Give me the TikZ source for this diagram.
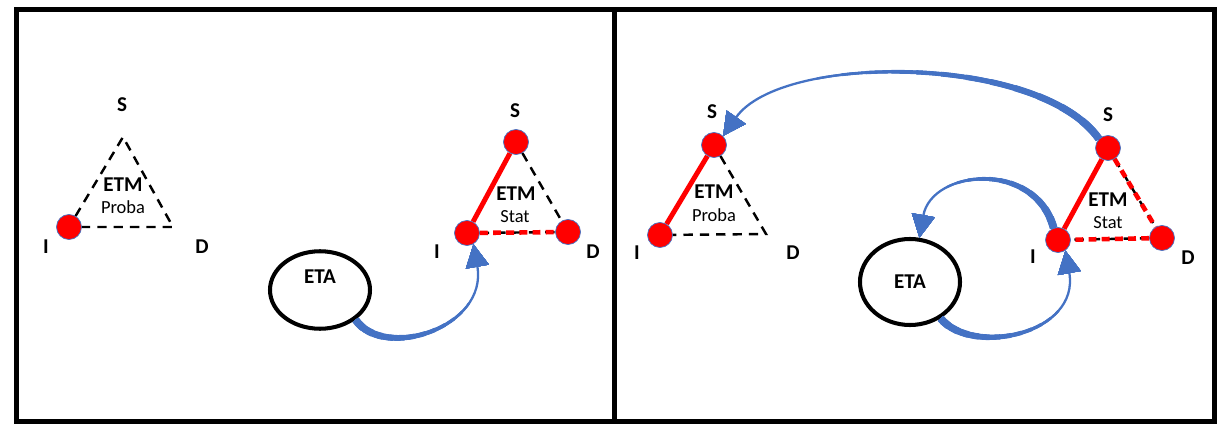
\documentclass[tikz,border=0pt]{standalone}
\usepackage{fontspec}
\setmainfont{Carlito}
\usetikzlibrary{shapes.geometric,arrows.meta}
\definecolor{bleufleche}{RGB}{68,114,196}
\definecolor{rougeactif}{RGB}{255,0,0}
\tikzset{
  every node/.style={font=\bfseries\fontsize{12}{14}\selectfont},
  cadre/.style={draw=black,line width=0.1cm},
  sommet/.style={
    circle,
    fill=rougeactif,
    draw=bleufleche,
    line width=0.4pt,
    minimum size=0.5cm,
    inner sep=0pt
  },
  automate/.style={ellipse,draw=black,line width=2.3pt,minimum width=2.0cm,inner sep=0pt},
  sous/.style={font=\fontsize{10.5}{12}\selectfont},
  lien/.style={draw=black,line width=1.4pt,dash pattern=on 5.3pt off 4pt},
  actif/.style={draw=rougeactif,line width=2.8pt},
  actifpointille/.style={draw=rougeactif,line width=2.6pt,dash pattern=on 4.5pt off 3pt},
  pointe/.style={-{Triangle[length=13pt,width=13pt,line width=1.3pt]}},
  tronc/.style={draw=bleufleche,line cap=butt,pointe},
  fleche/.style={draw=bleufleche,line width=1.3pt,pointe}
}
% Flèche courbe qui s'amincit : #1 départ, #2 arrivée, #3 options du to, #4 longueur épaisse
\newcommand{\transition}[4]{%
  \foreach \k in {1,...,12}{%
    \pgfmathsetmacro{\epais}{4.7-0.28*\k}
    \pgfmathsetmacro{\troncl}{\k/12*#4}
    \draw[tronc,line width=\epais pt,dash pattern=on \troncl cm off 40cm] (#1) to[#3] (#2);
  }
  \draw[fleche] (#1) to[#3] (#2);
}

\begin{document}
\begin{tikzpicture}
  \useasboundingbox (0,0) rectangle (24.44,8.48);

  % Les deux cadres.
  \draw[cadre] (0.33,0.05) rectangle (12.29,8.29);
  \draw[cadre] (12.29,0.05) rectangle (24.29,8.29);

  % Cadre 1 : ETM probabiliste, seul I est actif.
  \coordinate (proba1-s) at (2.46,5.74);
  \coordinate (proba1-d) at (3.46,3.94);
  \node[sommet] (proba1-i) at (1.38,3.94) {};
  \draw[lien] (proba1-i) -- (proba1-s) -- (proba1-d) -- (proba1-i);
  \node (proba1-s-txt) at (2.44,6.38) {S};
  \node (proba1-i-txt) at (0.92,3.54) {I};
  \node (proba1-d-txt) at (4.04,3.54) {D};
  \node (proba1-etm) at (2.46,4.78) {ETM};
  \node[sous] (proba1-nom) at (2.46,4.34) {Proba};

  % Cadre 1 : ETA puis ETM statistique.
  \node[automate,minimum height=1.55cm,text depth=0.55cm] (eta1) at (6.40,2.68) {ETA};
  \node[sommet] (stat1-s) at (10.32,5.64) {};
  \node[sommet] (stat1-i) at (9.34,3.82) {};
  \node[sommet] (stat1-d) at (11.36,3.84) {};
  \draw[lien] (stat1-s) -- (stat1-d);
  \draw[lien] (stat1-i) -- (stat1-d);
  \draw[actifpointille] (stat1-i) -- (stat1-d);
  \draw[actif] (stat1-i) -- (stat1-s);
  \node (stat1-s-txt) at (10.30,6.26) {S};
  \node (stat1-i-txt) at (8.74,3.44) {I};
  \node (stat1-d-txt) at (11.86,3.44) {D};
  \node (stat1-etm) at (10.32,4.60) {ETM};
  \node[sous] (stat1-nom) at (10.30,4.14) {Stat};

  \transition{eta1.-40}{stat1-i.-60}{out=-55,in=-80,out distance=1.0cm,in distance=1.7cm}{2.6}

  % Cadre 2 : ETM probabiliste.
  \node[sommet] (proba2-s) at (14.28,5.58) {};
  \node[sommet] (proba2-i) at (13.20,3.78) {};
  \coordinate (proba2-d) at (15.32,3.80);
  \draw[lien] (proba2-s) -- (proba2-d) -- (proba2-i);
  \draw[actif] (proba2-i) -- (proba2-s);
  \node (proba2-s-txt) at (14.24,6.24) {S};
  \node (proba2-i-txt) at (12.74,3.42) {I};
  \node (proba2-d-txt) at (15.86,3.42) {D};
  \node (proba2-etm) at (14.28,4.64) {ETM};
  \node[sous] (proba2-nom) at (14.28,4.18) {Proba};

  % Cadre 2 : ETA et ETM statistique.
  \node[automate,minimum height=1.72cm] (eta2) at (18.20,2.84) {ETA};
  \node[sommet] (stat2-s) at (22.16,5.52) {};
  \node[sommet] (stat2-i) at (21.16,3.68) {};
  \node[sommet] (stat2-d) at (23.24,3.72) {};
  \foreach \a/\b in {s/d,d/i} {
    \draw[lien] (stat2-\a) -- (stat2-\b);
    \draw[actifpointille] (stat2-\a) -- (stat2-\b);
  }
  \draw[actif] (stat2-i) -- (stat2-s);
  \node (stat2-s-txt) at (22.16,6.18) {S};
  \node (stat2-i-txt) at (20.66,3.34) {I};
  \node (stat2-d-txt) at (23.76,3.32) {D};
  \node (stat2-etm) at (22.16,4.48) {ETM};
  \node[sous] (stat2-nom) at (22.16,4.02) {Stat};

  % Transitions entre modèles.
  \transition{stat2-s.135}{proba2-s.45}{out=125,in=55,distance=2.05cm}{6}
  \transition{stat2-i.110}{eta2.78}{out=105,in=80,distance=1.4cm}{2.6}
  \transition{eta2.-50}{stat2-i.-55}{out=-50,in=-80,out distance=1.0cm,in distance=1.7cm}{2.6}
\end{tikzpicture}
\end{document}
